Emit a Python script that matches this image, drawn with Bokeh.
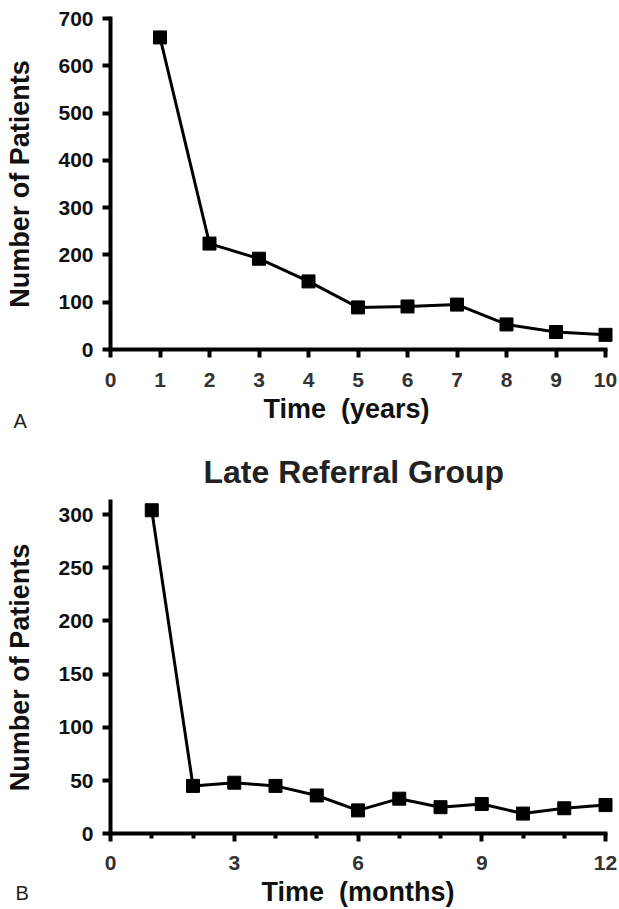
from bokeh.plotting import figure
from bokeh.layouts import column
from bokeh.models import Range1d, FixedTicker, Label
from bokeh.embed import file_html
from bokeh.resources import INLINE

# ---- data ----
years = [1, 2, 3, 4, 5, 6, 7, 8, 9, 10]
patients_by_year = [660, 224, 192, 144, 89, 91, 95, 53, 37, 31]

months = [1, 2, 3, 4, 5, 6, 7, 8, 9, 10, 11, 12]
patients_by_month = [304, 45, 48, 45, 36, 22, 33, 25, 28, 19, 24, 27]

year_ticks = [0, 1, 2, 3, 4, 5, 6, 7, 8, 9, 10]
year_count_ticks = [0, 100, 200, 300, 400, 500, 600, 700]
month_ticks = [0, 3, 6, 9, 12]
month_minor_ticks = [1, 2, 4, 5, 7, 8, 10, 11]
month_count_ticks = [0, 50, 100, 150, 200, 250, 300]
month_count_axis_top = 312

FONT = "Liberation Sans"
PAGE_W = 619


class Geo:
    """Pixel geometry of one panel: where value 0 sits and pixels per unit."""
    def __init__(self, height, top, x0, xper, y0, yper):
        self.height, self.top = height, top
        self.frame_h = height - top
        self.x0, self.xper = x0, xper
        self.y0 = y0 - top          # relative to frame top
        self.yper = yper

    def x_range(self):
        return Range1d(-self.x0 / self.xper, (PAGE_W - self.x0) / self.xper)

    def y_range(self):
        return Range1d(-(self.frame_h - self.y0) / self.yper, self.y0 / self.yper)

    def dx(self, px):
        return (px - self.x0) / self.xper

    def dy(self, py):
        return (self.y0 + self.top - py) / self.yper


def make_fig(g, title=None):
    p = figure(frame_width=PAGE_W, frame_height=g.frame_h,
               x_range=g.x_range(), y_range=g.y_range(),
               min_border=0, min_border_top=g.top, title=title,
               output_backend="svg", toolbar_location=None)
    p.outline_line_color = None
    p.grid.visible = False
    p.background_fill_color = "white"
    p.border_fill_color = "white"
    return p


def style_axes(p, xticks, yticks, xminor=None):
    p.xaxis.ticker = FixedTicker(ticks=xticks, minor_ticks=xminor or [])
    p.yaxis.ticker = FixedTicker(ticks=yticks)
    p.xaxis.fixed_location = 0
    p.yaxis.fixed_location = 0
    for ax in (p.xaxis, p.yaxis):
        ax.axis_line_width = 4
        ax.axis_line_color = "black"
        ax.axis_line_cap = "square"
        ax.major_tick_line_width = 4
        ax.major_tick_line_color = "black"
        ax.major_tick_in = 0
        ax.major_tick_out = 8
        ax.minor_tick_line_width = 4
        ax.minor_tick_line_color = "black"
        ax.minor_tick_in = 0
        ax.minor_tick_out = 5
        ax.major_label_text_font = FONT
        ax.major_label_text_font_style = "bold"
        ax.major_label_text_font_size = "21px"
        ax.axis_label_text_font = FONT
        ax.axis_label_text_font_style = "bold"
        ax.axis_label_text_font_size = "27px"
        ax.axis_label_text_color = "#111111"
    p.xaxis.major_label_text_color = "#333333"
    p.yaxis.major_label_text_color = "#111111"
    p.yaxis.major_label_standoff = 9
    p.yaxis.axis_label_standoff = 20
    p.xaxis.major_label_standoff = 15
    p.xaxis.axis_label_standoff = 4


def add_text(p, g, text, left_px, mid_px, size, style="normal", color="#222222"):
    p.add_layout(Label(x=g.dx(left_px), y=g.dy(mid_px), text=text,
                       text_font=FONT, text_font_size=size,
                       text_font_style=style, text_color=color,
                       text_baseline="middle", text_align="left"))


# ---- panel A ----
gA = Geo(height=440, top=0, x0=110, xper=49.5, y0=349, yper=331 / 700)
pA = make_fig(gA)
style_axes(pA, year_ticks, year_count_ticks)
pA.xaxis.bounds = (year_ticks[0], year_ticks[-1])
pA.yaxis.bounds = (year_count_ticks[0], year_count_ticks[-1])
pA.yaxis.axis_label = "Number of Patients"
pA.line(years, patients_by_year, line_color="black", line_width=3)
pA.scatter(years, patients_by_year, marker="square", size=13,
           fill_color="black", line_color="black")
# x-axis title of panel A sits left-aligned with panel B's, as in the original
add_text(pA, gA, "Time \u00a0(years)", 263, 408, "27px", "bold", "#111111")
add_text(pA, gA, "A", 13, 420, "20px")

# ---- panel B ----
gB = Geo(height=468, top=50, x0=110, xper=41.25, y0=833.3 - 440, yper=319.3 / 300)
pB = make_fig(gB, title="Late Referral Group")
style_axes(pB, month_ticks, month_count_ticks, month_minor_ticks)
pB.xaxis.bounds = (month_ticks[0], month_ticks[-1])
pB.yaxis.bounds = (0, month_count_axis_top)
pB.xaxis.axis_label = "Time \u00a0(months)"
pB.yaxis.axis_label = "Number of Patients"
pB.xaxis.major_label_standoff = 14
pB.title.text_font = FONT
pB.title.text_font_style = "bold"
pB.title.text_font_size = "32px"
pB.title.text_color = "#222222"
pB.title.align = "left"
pB.title.offset = 203
pB.title.standoff = 2
pB.line(months, patients_by_month, line_color="black", line_width=3)
pB.scatter(months, patients_by_month, marker="square", size=13,
           fill_color="black", line_color="black")
add_text(pB, gB, "B", 15, 452, "20px")

layout = column(pA, pB, spacing=0)

with open("out.html", "w") as f:
    f.write(file_html(layout, INLINE))
